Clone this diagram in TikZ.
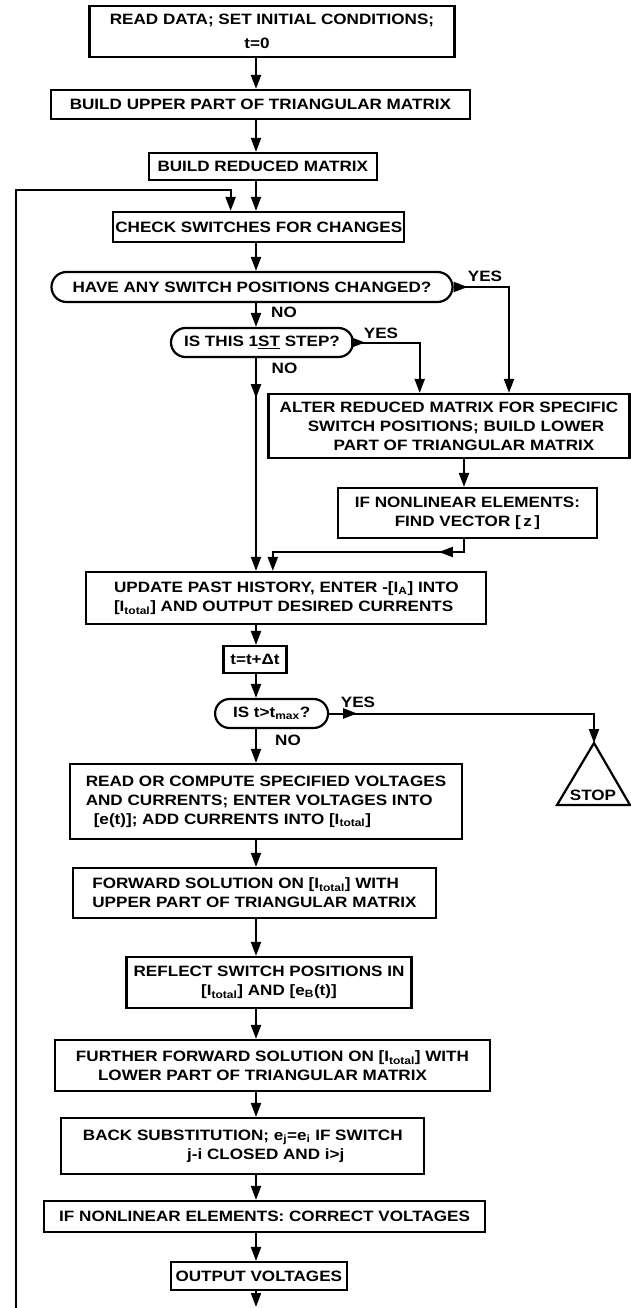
\documentclass[tikz,border=0pt]{standalone}
\usepackage{fontspec}
\setmainfont{Liberation Sans}[FakeStretch=1.14]
\usetikzlibrary{arrows.meta,shapes.misc,decorations.markings}
\begin{document}
\begin{tikzpicture}[x=1pt,y=-1pt,
  every node/.style={font=\fontsize{15}{19}\selectfont\bfseries},
  box/.style={draw, line width=2.2pt, inner sep=2pt, align=center},
  dec/.style={draw, line width=2.2pt, rounded rectangle, inner sep=2pt},
  lbl/.style={inner sep=0pt},
  conn/.style={line width=2pt},
  arr/.style={conn, -{Triangle[length=14pt,width=10pt]}},
  midarr/.style={postaction={decorate}, decoration={markings, mark=at position #1 with {\arrow{Triangle[length=14pt,width=10pt]}}}}]
\useasboundingbox (0,0) rectangle (631,1308);

% boxes
\node[box, minimum width=365pt, minimum height=51pt] (read) at (272,31.5) {READ DATA; SET INITIAL CONDITIONS;\\[5pt] t=0\hspace*{30pt}};
\node[box, minimum width=419pt, minimum height=29pt] (upper) at (260.4,104.5) {BUILD UPPER PART OF TRIANGULAR MATRIX};
\node[box, minimum width=228pt, minimum height=27pt] (reduced) at (262.8,166.5) {BUILD REDUCED MATRIX};
\node[box, minimum width=290pt, minimum height=30pt] (check) at (258.8,227) {CHECK SWITCHES FOR CHANGES};
\node[dec, minimum width=405pt, minimum height=30pt] (d1) at (252,287) {HAVE ANY SWITCH POSITIONS CHANGED?};
\node[dec, minimum width=186pt, minimum height=29pt] (d2) at (262,342.5) {IS THIS 1\underline{ST} STEP?};
\node[box, minimum width=361pt, minimum height=64pt] (alter) at (449,426) {ALTER REDUCED MATRIX FOR SPECIFIC\\ \hspace*{14pt}SWITCH POSITIONS; BUILD LOWER\\ \hspace*{30pt}PART OF TRIANGULAR MATRIX};
\node[box, minimum width=259pt, minimum height=50pt] (findz) at (467.4,513) {IF NONLINEAR ELEMENTS:\\ FIND VECTOR {[}\,z\,{]}};
\node[box, align=left, minimum width=400pt, minimum height=52pt] (update) at (286.3,598) {UPDATE PAST HISTORY, ENTER -{[}I\textsubscript{A}{]} INTO\\ {[}I\textsubscript{total}{]} AND OUTPUT DESIRED CURRENTS};
\node[box, minimum width=63pt, minimum height=27pt] (tinc) at (255,659.5) {t=t+Δt};
\node[dec, minimum width=117pt, minimum height=29pt] (d3) at (271.6,713.5) {IS t>t\textsubscript{max}?};
\node[box, align=left, minimum width=392pt, minimum height=75pt] (readc) at (266,801.5) {READ OR COMPUTE SPECIFIED VOLTAGES\\ AND CURRENTS; ENTER VOLTAGES INTO\\ \hspace*{8pt}{[}e(t){]}; ADD CURRENTS INTO {[}I\textsubscript{total}{]}};
\node[box, align=left, minimum width=363pt, minimum height=50pt] (fwd) at (254.5,893) {FORWARD SOLUTION ON {[}I\textsubscript{total}{]} WITH\\ UPPER PART OF TRIANGULAR MATRIX};
\node[box, minimum width=285pt, minimum height=51pt] (reflect) at (269,982.5) {REFLECT SWITCH POSITIONS IN\\ {[}I\textsubscript{total}{]} AND {[}e\textsubscript{B}(t){]}};
\node[box, minimum width=435pt, minimum height=51pt] (further) at (272.5,1065.5) {FURTHER FORWARD SOLUTION ON {[}I\textsubscript{total}{]} WITH\\ LOWER PART OF TRIANGULAR MATRIX\hspace*{20pt}};
\node[box, minimum width=363pt, minimum height=56pt] (back) at (242.8,1146) {BACK SUBSTITUTION; e\textsubscript{j}=e\textsubscript{i} IF SWITCH\\ \hspace*{46pt}j-i CLOSED AND i>j};
\node[box, minimum width=441pt, minimum height=31pt] (corr) at (264.6,1216.5) {IF NONLINEAR ELEMENTS: CORRECT VOLTAGES};
\node[box, minimum width=176pt, minimum height=28pt] (outv) at (258.8,1276) {OUTPUT VOLTAGES};

% stop triangle
\coordinate (apex) at (594,743);
\draw[line width=2.2pt, line join=miter] (apex) -- (557,805) -- (630,805) -- cycle;
\node (stop) at (593,795) {STOP};

% labels
\node[lbl] (yes1) at (485,276) {YES};
\node[lbl] (no1) at (284,312) {NO};
\node[lbl] (yes2) at (381,333) {YES};
\node[lbl] (no2) at (284.5,368) {NO};
\node[lbl] (yes3) at (358,702) {YES};
\node[lbl] (no3) at (288,740) {NO};

% helper coordinates
\coordinate (ax) at (256,0);
\coordinate (lx) at (230.6,0);
\coordinate (lb) at (16,1308);
\coordinate (lt) at (16,190);
\coordinate (y1x) at (509,0);
\coordinate (y2x) at (419.7,0);
\coordinate (zx) at (464,0);
\coordinate (jx) at (272.8,0);
\coordinate (jy) at (0,552);
\coordinate (bot) at (256,1307);

% connectors
\draw[arr] (read.south -| ax) -- (upper.north -| ax);
\draw[arr] (upper.south -| ax) -- (reduced.north -| ax);
\draw[arr] (reduced.south -| ax) -- (check.north -| ax);
\draw[arr] (check.south -| ax) -- (d1.north -| ax);
\draw[arr] (d1.south -| ax) -- (d2.north -| ax);
\draw[arr, midarr=40pt] (d2.south -| ax) -- (update.north -| ax);
\draw[arr, midarr=14pt] (d1.east) -- (d1.east -| y1x) -- (alter.north -| y1x);
\draw[arr, midarr=11pt] (d2.east) -- (d2.east -| y2x) -- (alter.north -| y2x);
\draw[arr] (alter.south -| zx) -- (findz.north -| zx);
\draw[arr, midarr=38pt] (findz.south -| zx) -- (jy -| zx) -- (jy -| jx) -- (update.north -| jx);
\draw[arr] (update.south -| ax) -- (tinc.north -| ax);
\draw[arr] (tinc.south -| ax) -- (d3.north -| ax);
\draw[arr, midarr=28pt] (d3.east) -- (d3.east -| apex) -- (apex);
\draw[arr] (d3.south -| ax) -- (readc.north -| ax);
\draw[arr] (readc.south -| ax) -- (fwd.north -| ax);
\draw[arr] (fwd.south -| ax) -- (reflect.north -| ax);
\draw[arr] (reflect.south -| ax) -- (further.north -| ax);
\draw[arr] (further.south -| ax) -- (back.north -| ax);
\draw[arr] (back.south -| ax) -- (corr.north -| ax);
\draw[arr] (corr.south -| ax) -- (outv.north -| ax);
\draw[arr] (outv.south -| ax) -- (bot);
\draw[arr] (lb) -- (lt) -- (lt -| lx) -- (check.north -| lx);
\end{tikzpicture}
\end{document}
